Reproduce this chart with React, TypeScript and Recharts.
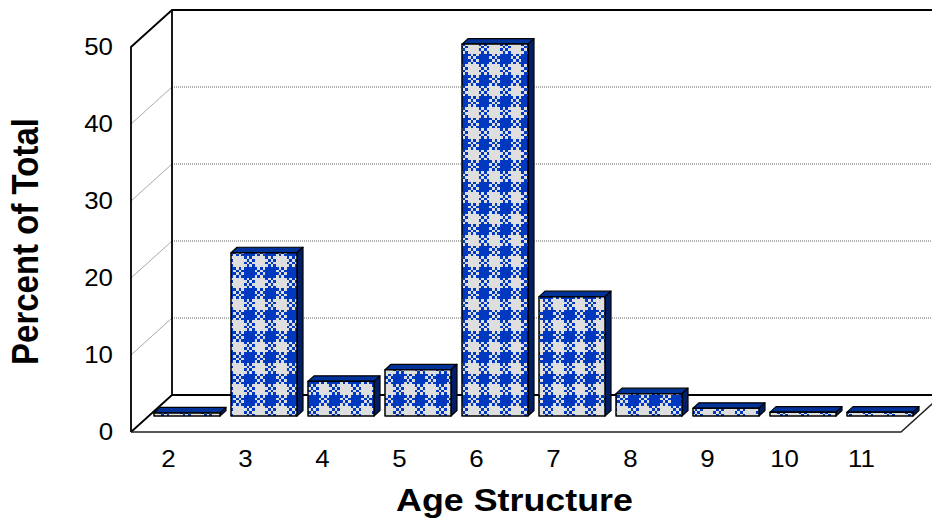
import { Bar, BarChart, CartesianGrid, XAxis, YAxis } from 'recharts'

const ages = ['2', '3', '4', '5', '6', '7', '8', '9', '10', '11']
const percents = [0.4, 21.2, 4.5, 6, 48.3, 15.5, 2.9, 1, 0.5, 0.5]
const yTicks = [0, 10, 20, 30, 40, 50]

const dados = ages.map((age, i) => ({ age, percent: percents[i] }))

const WIDTH = 932
const HEIGHT = 518
const LEFT = 131
const TOP = 47
const BOTTOM = 432
const RIGHT = 901
// the chart is a fake 3D box: back wall offset from the front plane
const WALL_DX = 41
const WALL_DY = -37
// bars stand halfway into the box
const BAR_DX = 17
const BAR_DY = -16
const BAR_DEPTH_X = 6
const BAR_DEPTH_Y = -5.5
const STRETCH = 1.1

const BLUE = '#0039bf'
const GRAY = '#dedede'

function Gingham() {
  // 3 repeats of an 8 cell plaid, cell edges snapped to whole pixels so it stays crisp
  const edge = (i: number) => Math.round((i * 8) / 3)
  const cells = []
  for (let r = 0; r < 24; r++) {
    for (let c = 0; c < 24; c++) {
      const blueRow = r % 8 < 4
      const blueCol = c % 8 < 4
      const blue = blueRow === blueCol ? blueRow : (r + c) % 2 === 0
      cells.push(
        <rect
          key={`${r}-${c}`}
          x={edge(c)}
          y={edge(r)}
          width={edge(c + 1) - edge(c)}
          height={edge(r + 1) - edge(r)}
          fill={blue ? BLUE : GRAY}
          shapeRendering="crispEdges"
        />,
      )
    }
  }
  return (
    <defs>
      <pattern id="gingham" patternUnits="userSpaceOnUse" x={244} y={267} width={64} height={64}>
        {cells}
      </pattern>
    </defs>
  )
}

function Frame() {
  const bx = LEFT + WALL_DX
  const by = BOTTOM + WALL_DY
  const ty = TOP + WALL_DY
  return (
    <g fill="none">
      <path d={`M${LEFT} ${BOTTOM}L${LEFT} ${TOP}L${bx} ${ty}L${WIDTH} ${ty}`} stroke="#000" strokeWidth={1.8} />
      <path d={`M${bx} ${ty}L${bx} ${by}L${WIDTH} ${by}`} stroke="#000" strokeWidth={1.8} />
      <path d={`M${LEFT} ${BOTTOM}L${bx} ${by}`} stroke="#000" strokeWidth={1.8} />
      <path d={`M${LEFT} ${BOTTOM}L${RIGHT} ${BOTTOM}L${RIGHT + WALL_DX} ${by}`} stroke="#222" strokeWidth={1.5} />
    </g>
  )
}

function GridLine(props: any) {
  const { y1, index } = props
  const bx = LEFT + WALL_DX
  const by = y1 + WALL_DY
  return (
    <g key={index}>
      <line x1={LEFT} y1={y1} x2={bx} y2={by} stroke="#aaa" strokeWidth={1} />
      <line x1={bx} y1={by} x2={WIDTH} y2={by} stroke="#666" strokeWidth={1} strokeDasharray="1 1" />
    </g>
  )
}

function Bar3D(props: any) {
  const { x, y, width, height } = props
  const fx = x + BAR_DX
  const fy = y + BAR_DY
  const dx = BAR_DEPTH_X
  const dy = BAR_DEPTH_Y
  const right = fx + width
  const bottom = fy + height
  return (
    <g stroke="#000" strokeWidth={1.2} strokeLinejoin="round">
      <path d={`M${fx} ${fy}L${fx + dx} ${fy + dy}L${right + dx} ${fy + dy}L${right} ${fy}Z`} fill="#003399" />
      <path d={`M${right} ${fy}L${right + dx} ${fy + dy}L${right + dx} ${bottom + dy}L${right} ${bottom}Z`} fill="#001f66" />
      <rect x={fx} y={fy} width={width} height={height} fill="url(#gingham)" strokeWidth={1.5} />
    </g>
  )
}

function XTick(props: any) {
  const { x, payload } = props
  return (
    <text transform={`translate(${x - 1},467) scale(${STRETCH},1)`} textAnchor="middle" fontSize={23.5} fill="#000">
      {payload.value}
    </text>
  )
}

function YTick(props: any) {
  const { y, payload } = props
  return (
    <text transform={`translate(113,${y + 8}) scale(${STRETCH},1)`} textAnchor="end" fontSize={23.5} fill="#000">
      {payload.value}
    </text>
  )
}

export default function App() {
  return (
    <div style={{ position: 'absolute', left: 0, top: 0, width: WIDTH, height: HEIGHT, fontFamily: '"Liberation Sans", Arial, sans-serif' }}>
      <BarChart
        width={WIDTH}
        height={HEIGHT}
        data={dados}
        margin={{ top: TOP, right: WIDTH - RIGHT, bottom: 0, left: 0 }}
        barSize={66}
        style={{ overflow: 'hidden' }}
      >
        <Gingham />
        <XAxis dataKey="age" height={HEIGHT - BOTTOM} axisLine={false} tickLine={false} tick={<XTick />} interval={0} />
        <YAxis width={LEFT} domain={[0, 50]} ticks={yTicks} axisLine={false} tickLine={false} tick={<YTick />} />
        <CartesianGrid vertical={false} horizontal={(p: any) => <GridLine {...p} />} />
        <Frame />
        <Bar dataKey="percent" shape={<Bar3D />} isAnimationActive={false} />
        <text transform={`translate(514.5,511) scale(1.12,1)`} textAnchor="middle" fontSize={32} fontWeight="bold" fill="#000">
          Age Structure
        </text>
        <text transform={`translate(38,241.5) scale(${STRETCH},1) rotate(-90)`} textAnchor="middle" fontSize={33} fontWeight="bold" fill="#000">
          Percent of Total
        </text>
      </BarChart>
    </div>
  )
}
